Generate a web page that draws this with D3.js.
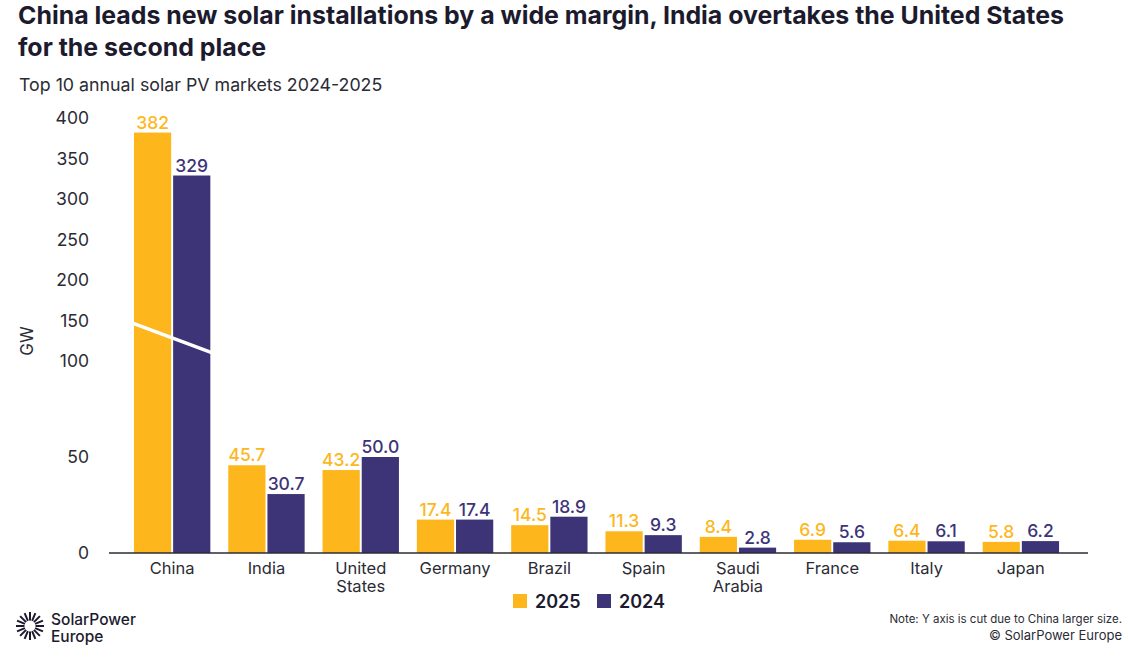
<!DOCTYPE html>
<html>
<head>
<meta charset="utf-8">
<script src="https://cdn.jsdelivr.net/npm/d3@7"></script>
<style>
  body { margin: 0; background: #fff; }
  svg { font-family: Inter, "Noto Sans", sans-serif; }
</style>
</head>
<body>
<svg id="chart" width="1128" height="661"></svg>
<script>
// data
var countries = ["China", "India", "United States", "Germany", "Brazil", "Spain", "Saudi Arabia", "France", "Italy", "Japan"];
var values2025 = [382, 45.7, 43.2, 17.4, 14.5, 11.3, 8.4, 6.9, 6.4, 5.8];
var values2024 = [329, 30.7, 50.0, 17.4, 18.9, 9.3, 2.8, 5.6, 6.1, 6.2];
var labels2025 = ["382", "45.7", "43.2", "17.4", "14.5", "11.3", "8.4", "6.9", "6.4", "5.8"];
var labels2024 = ["329", "30.7", "50.0", "17.4", "18.9", "9.3", "2.8", "5.6", "6.1", "6.2"];
var yTicks = [0, 50, 100, 150, 200, 250, 300, 350, 400];
var years = ["2025", "2024"];

var yellow = "#FDB71C", purple = "#3D3477", ink = "#1c1b2e";

var svg = d3.select("#chart");

// titles
svg.append("text").attr("x", 18).attr("y", 24)
  .attr("font-size", 24.9).attr("font-weight", 700).attr("fill", ink)
  .text("China leads new solar installations by a wide margin, India overtakes the United States");
svg.append("text").attr("x", 18).attr("y", 56)
  .attr("font-size", 24.9).attr("font-weight", 700).attr("fill", ink)
  .text("for the second place");
svg.append("text").attr("x", 19).attr("y", 91)
  .attr("font-size", 17.8).attr("fill", "#2b2b35")
  .text("Top 10 annual solar PV markets 2024-2025");

// scales - y axis is cut: 0-100 stretched, 100-400 compressed
var y = d3.scaleLinear().domain([0, 100, 400]).range([553, 361, 118]);
var x0 = d3.scaleBand().domain(countries).range([125, 1068]).paddingInner(0.19).paddingOuter(0.095);
var x1 = d3.scaleBand().domain(years).range([0, x0.bandwidth()]).paddingInner(0.05);

// y tick labels
svg.append("g").selectAll("text").data(yTicks).join("text")
  .attr("x", 89).attr("y", function(d){ return y(d) + 6; })
  .attr("text-anchor", "end").attr("font-size", 17.5).attr("fill", "#2b2b35")
  .text(function(d){ return d; });

svg.append("text").attr("transform", "translate(33,341) rotate(-90)")
  .attr("text-anchor", "middle").attr("font-size", 17).attr("fill", "#2b2b35").text("GW");

// bars
var groups = svg.append("g").selectAll("g").data(countries).join("g")
  .attr("transform", function(d){ return "translate(" + x0(d) + ",0)"; });

groups.append("rect")
  .attr("x", x1("2025")).attr("width", x1.bandwidth())
  .attr("y", function(d, i){ return y(values2025[i]); })
  .attr("height", function(d, i){ return y(0) - y(values2025[i]); })
  .attr("fill", yellow);
groups.append("rect")
  .attr("x", x1("2024")).attr("width", x1.bandwidth())
  .attr("y", function(d, i){ return y(values2024[i]); })
  .attr("height", function(d, i){ return y(0) - y(values2024[i]); })
  .attr("fill", purple);

groups.append("text")
  .attr("x", x1("2025") + x1.bandwidth() / 2)
  .attr("y", function(d, i){ return y(values2025[i]) - 4; })
  .attr("text-anchor", "middle").attr("font-size", 17.5).attr("font-weight", 500).attr("fill", yellow)
  .text(function(d, i){ return labels2025[i]; });
groups.append("text")
  .attr("x", x1("2024") + x1.bandwidth() / 2)
  .attr("y", function(d, i){ return y(values2024[i]) - 4; })
  .attr("text-anchor", "middle").attr("font-size", 17.5).attr("font-weight", 500).attr("fill", purple)
  .text(function(d, i){ return labels2024[i]; });

// cut marker across China bars
var cx = x0("China");
svg.append("line")
  .attr("x1", cx - 2).attr("y1", y(147))
  .attr("x2", cx + x0.bandwidth() + 2).attr("y2", y(110))
  .attr("stroke", "#fff").attr("stroke-width", 3.5);

// baseline
svg.append("line").attr("x1", 109).attr("x2", 1088)
  .attr("y1", y(0)).attr("y2", y(0)).attr("stroke", "#2b2b35").attr("stroke-width", 1.3);

// category labels, two-word names wrap to two lines
svg.append("g").selectAll("g").data(countries).join("g")
  .attr("transform", function(d){ return "translate(" + (x0(d) + x0.bandwidth() / 2) + ",574)"; })
  .each(function(d){
    var g = d3.select(this);
    d.split(" ").forEach(function(p, k){
      g.append("text").attr("y", k * 18).attr("text-anchor", "middle")
        .attr("font-size", 16.5).attr("fill", "#2b2b35").text(p);
    });
  });

// legend
var legend = svg.append("g").attr("transform", "translate(513,594)");
legend.append("rect").attr("width", 14).attr("height", 14).attr("fill", yellow);
legend.append("text").attr("x", 22).attr("y", 14).attr("font-size", 18).attr("font-weight", 600).attr("fill", ink).text("2025");
legend.append("rect").attr("x", 84).attr("width", 14).attr("height", 14).attr("fill", purple);
legend.append("text").attr("x", 106).attr("y", 14).attr("font-size", 18).attr("font-weight", 600).attr("fill", ink).text("2024");

// logo
var logo = svg.append("g").attr("transform", "translate(30,626)");
d3.range(16).forEach(function(k){
  var a = k / 16 * 2 * Math.PI;
  logo.append("line")
    .attr("x1", Math.cos(a) * 5.5).attr("y1", Math.sin(a) * 5.5)
    .attr("x2", Math.cos(a) * 14).attr("y2", Math.sin(a) * 14)
    .attr("stroke", ink).attr("stroke-width", 2);
});
svg.append("text").attr("x", 51).attr("y", 625).attr("font-size", 15.5).attr("font-weight", 500).attr("fill", ink).text("SolarPower");
svg.append("text").attr("x", 51).attr("y", 642).attr("font-size", 15.5).attr("font-weight", 500).attr("fill", ink).text("Europe");

// note
svg.append("text").attr("x", 1122).attr("y", 623).attr("text-anchor", "end")
  .attr("font-size", 11.5).attr("fill", "#2b2b35").text("Note: Y axis is cut due to China larger size.");
svg.append("text").attr("x", 1122).attr("y", 640).attr("text-anchor", "end")
  .attr("font-size", 13).attr("fill", "#2b2b35").text("© SolarPower Europe");
</script>
</body>
</html>
